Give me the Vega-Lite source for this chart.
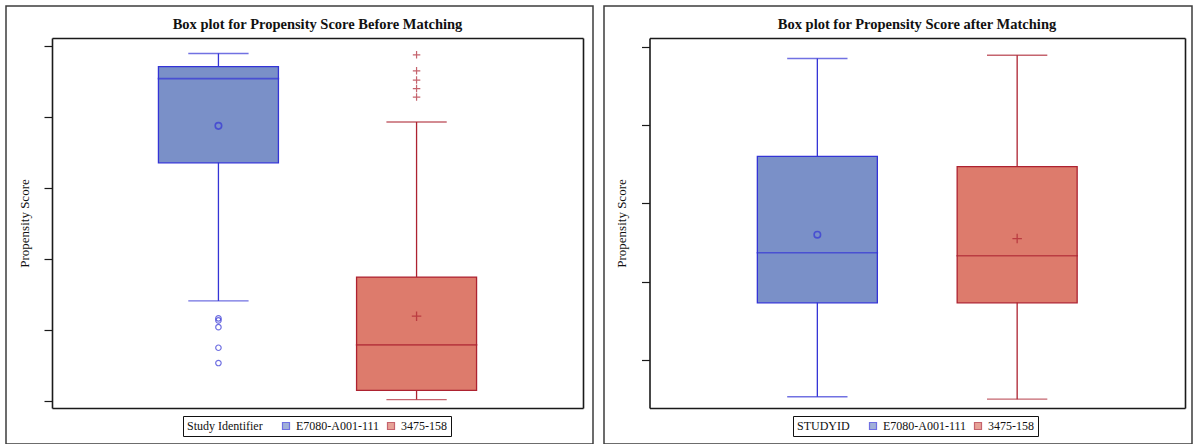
{
  "$schema": "https://vega.github.io/schema/vega-lite/v6.json",
  "background": "white",
  "padding": {"left": 5, "top": 5, "right": 2, "bottom": 0},
  "spacing": 9,
  "resolve": {
    "scale": {"fill": "independent", "stroke": "independent"},
    "legend": {"fill": "independent", "stroke": "independent"}
  },
  "datasets": {
    "before_box": [
      {"study": "E7080-A001-111", "lower": 0.282, "q1": 0.671, "median": 0.908, "q3": 0.942, "upper": 0.979, "mean": 0.775},
      {"study": "3475-158", "lower": 0.004, "q1": 0.030, "median": 0.158, "q3": 0.349, "upper": 0.786, "mean": 0.239}
    ],
    "before_out": [
      {"study": "E7080-A001-111", "value": 0.233},
      {"study": "E7080-A001-111", "value": 0.227},
      {"study": "E7080-A001-111", "value": 0.208},
      {"study": "E7080-A001-111", "value": 0.150},
      {"study": "E7080-A001-111", "value": 0.107},
      {"study": "3475-158", "value": 0.975},
      {"study": "3475-158", "value": 0.930},
      {"study": "3475-158", "value": 0.904},
      {"study": "3475-158", "value": 0.880},
      {"study": "3475-158", "value": 0.856}
    ],
    "after_box": [
      {"study": "E7080-A001-111", "lower": 0.153, "q1": 0.273, "median": 0.337, "q3": 0.460, "upper": 0.585, "mean": 0.360},
      {"study": "3475-158", "lower": 0.150, "q1": 0.273, "median": 0.333, "q3": 0.447, "upper": 0.589, "mean": 0.355}
    ]
  },
  "hconcat": [
    {
      "width": 587,
      "height": 438,
      "title": {"text": "Box plot for Propensity Score Before Matching", "offset": -37, "baseline": "alphabetic", "dx": 18, "frame": "group", "anchor": "middle"},
      "resolve": {"axis": {"x": "independent", "y": "independent"}},
      "layer": [
        {
          "data": {"name": "before_box"},
          "mark": {"type": "rule", "strokeWidth": 1.3},
          "encoding": {
            "x": {"field": "study", "type": "nominal",
                  "scale": {"domain": ["E7080-A001-111", "3475-158"], "range": [46, 577], "paddingInner": 0, "paddingOuter": 0.34},
                  "axis": {"orient": "bottom", "offset": -36, "ticks": false, "labels": false, "title": null}},
            "y": {"field": "lower", "type": "quantitative",
                  "scale": {"domain": [-0.0197, 1.0225], "range": [402, 32], "nice": false, "zero": false},
                  "axis": {"orient": "left", "offset": -46, "values": [0, 0.2, 0.4, 0.6, 0.8, 1], "labels": false, "title": "Propensity Score", "titlePadding": 12, "minExtent": 0}},
            "y2": {"field": "upper"},
            "stroke": {"field": "study", "type": "nominal", "title": "Study Identifier",
                       "scale": {"domain": ["E7080-A001-111", "3475-158"], "range": ["#3434D6", "#AD2230"]}}
          }
        },
        {
          "data": {"name": "before_box"},
          "mark": {"type": "tick", "filled": false, "size": 59, "thickness": 0.1, "strokeWidth": 1.3},
          "encoding": {
            "x": {"field": "study", "type": "nominal", "axis": {"orient": "top", "offset": -32, "ticks": false, "labels": false, "title": null}},
            "y": {"field": "lower", "type": "quantitative", "axis": {"orient": "right", "offset": -10, "ticks": false, "labels": false, "title": null, "minExtent": 0}},
            "stroke": {"field": "study", "type": "nominal", "title": "Study Identifier"}
          }
        },
        {
          "data": {"name": "before_box"},
          "mark": {"type": "tick", "filled": false, "size": 59, "thickness": 0.1, "strokeWidth": 1.3},
          "encoding": {
            "x": {"field": "study", "type": "nominal", "axis": null},
            "y": {"field": "upper", "type": "quantitative", "axis": null},
            "stroke": {"field": "study", "type": "nominal", "title": "Study Identifier"}
          }
        },
        {
          "data": {"name": "before_box"},
          "mark": {"type": "bar", "width": 120, "strokeWidth": 1.3, "opacity": 1},
          "encoding": {
            "x": {"field": "study", "type": "nominal", "axis": null},
            "y": {"field": "q1", "type": "quantitative", "axis": null},
            "y2": {"field": "q3"},
            "fill": {"field": "study", "type": "nominal", "title": "Study Identifier",
                     "scale": {"domain": ["E7080-A001-111", "3475-158"], "range": ["#7A90C8", "#DD7B6C"]},
                     "legend": {"orient": "none", "legendX": 177, "legendY": 410, "direction": "horizontal", "titleOrient": "left"}},
            "stroke": {"field": "study", "type": "nominal", "title": "Study Identifier",
                       "legend": {"orient": "none", "legendX": 177, "legendY": 410, "direction": "horizontal", "titleOrient": "left"}}
          }
        },
        {
          "data": {"name": "before_box"},
          "mark": {"type": "tick", "filled": false, "size": 120, "thickness": 0.1, "strokeWidth": 1.5},
          "encoding": {
            "x": {"field": "study", "type": "nominal", "axis": null},
            "y": {"field": "median", "type": "quantitative", "axis": null},
            "stroke": {"field": "study", "type": "nominal", "title": "Study Identifier"}
          }
        },
        {
          "data": {"name": "before_box"},
          "transform": [{"filter": "datum.study === 'E7080-A001-111'"}],
          "mark": {"type": "point", "shape": "circle", "filled": false, "size": 42, "strokeWidth": 1.6},
          "encoding": {
            "x": {"field": "study", "type": "nominal", "axis": null},
            "y": {"field": "mean", "type": "quantitative", "axis": null},
            "stroke": {"field": "study", "type": "nominal", "title": "Study Identifier"}
          }
        },
        {
          "data": {"name": "before_box"},
          "transform": [{"filter": "datum.study === '3475-158'"}],
          "mark": {"type": "point", "shape": "M-1,0H1M0,-1V1", "filled": false, "size": 90, "strokeWidth": 1.3},
          "encoding": {
            "x": {"field": "study", "type": "nominal", "axis": null},
            "y": {"field": "mean", "type": "quantitative", "axis": null},
            "stroke": {"field": "study", "type": "nominal", "title": "Study Identifier"}
          }
        },
        {
          "data": {"name": "before_out"},
          "transform": [{"filter": "datum.study === 'E7080-A001-111'"}],
          "mark": {"type": "point", "shape": "circle", "filled": false, "size": 30, "strokeWidth": 1.2},
          "encoding": {
            "x": {"field": "study", "type": "nominal", "axis": null},
            "y": {"field": "value", "type": "quantitative", "axis": null},
            "stroke": {"field": "study", "type": "nominal", "title": "Study Identifier"}
          }
        },
        {
          "data": {"name": "before_out"},
          "transform": [{"filter": "datum.study === '3475-158'"}],
          "mark": {"type": "point", "shape": "M-1,0H1M0,-1V1", "filled": false, "size": 56, "strokeWidth": 1.2},
          "encoding": {
            "x": {"field": "study", "type": "nominal", "axis": null},
            "y": {"field": "value", "type": "quantitative", "axis": null},
            "stroke": {"field": "study", "type": "nominal", "title": "Study Identifier"}
          }
        }
      ]
    },
    {
      "width": 588,
      "height": 438,
      "title": {"text": "Box plot for Propensity Score after Matching", "offset": -37, "baseline": "alphabetic", "dx": 19, "frame": "group", "anchor": "middle"},
      "resolve": {"axis": {"x": "independent", "y": "independent"}},
      "layer": [
        {
          "data": {"name": "after_box"},
          "mark": {"type": "rule", "strokeWidth": 1.3},
          "encoding": {
            "x": {"field": "study", "type": "nominal",
                  "scale": {"domain": ["E7080-A001-111", "3475-158"], "range": [45.5, 581], "paddingInner": 0, "paddingOuter": 0.34},
                  "axis": {"orient": "bottom", "offset": -36, "ticks": false, "labels": false, "title": null}},
            "y": {"field": "lower", "type": "quantitative",
                  "scale": {"domain": [0.1387, 0.6111], "range": [402, 32], "nice": false, "zero": false},
                  "axis": {"orient": "left", "offset": -45.5, "values": [0.2, 0.3, 0.4, 0.5, 0.6], "labels": false, "title": "Propensity Score", "titlePadding": 12, "minExtent": 0}},
            "y2": {"field": "upper"},
            "stroke": {"field": "study", "type": "nominal", "title": "STUDYID",
                       "scale": {"domain": ["E7080-A001-111", "3475-158"], "range": ["#3434D6", "#AD2230"]}}
          }
        },
        {
          "data": {"name": "after_box"},
          "mark": {"type": "tick", "filled": false, "size": 59, "thickness": 0.1, "strokeWidth": 1.3},
          "encoding": {
            "x": {"field": "study", "type": "nominal", "axis": {"orient": "top", "offset": -32, "ticks": false, "labels": false, "title": null}},
            "y": {"field": "lower", "type": "quantitative", "axis": {"orient": "right", "offset": -7, "ticks": false, "labels": false, "title": null, "minExtent": 0}},
            "stroke": {"field": "study", "type": "nominal", "title": "STUDYID"}
          }
        },
        {
          "data": {"name": "after_box"},
          "mark": {"type": "tick", "filled": false, "size": 59, "thickness": 0.1, "strokeWidth": 1.3},
          "encoding": {
            "x": {"field": "study", "type": "nominal", "axis": null},
            "y": {"field": "upper", "type": "quantitative", "axis": null},
            "stroke": {"field": "study", "type": "nominal", "title": "STUDYID"}
          }
        },
        {
          "data": {"name": "after_box"},
          "mark": {"type": "bar", "width": 120, "strokeWidth": 1.3, "opacity": 1},
          "encoding": {
            "x": {"field": "study", "type": "nominal", "axis": null},
            "y": {"field": "q1", "type": "quantitative", "axis": null},
            "y2": {"field": "q3"},
            "fill": {"field": "study", "type": "nominal", "title": "STUDYID",
                     "scale": {"domain": ["E7080-A001-111", "3475-158"], "range": ["#7A90C8", "#DD7B6C"]},
                     "legend": {"orient": "none", "legendX": 189, "legendY": 410, "direction": "horizontal", "titleOrient": "left"}},
            "stroke": {"field": "study", "type": "nominal", "title": "STUDYID",
                       "legend": {"orient": "none", "legendX": 189, "legendY": 410, "direction": "horizontal", "titleOrient": "left"}}
          }
        },
        {
          "data": {"name": "after_box"},
          "mark": {"type": "tick", "filled": false, "size": 120, "thickness": 0.1, "strokeWidth": 1.5},
          "encoding": {
            "x": {"field": "study", "type": "nominal", "axis": null},
            "y": {"field": "median", "type": "quantitative", "axis": null},
            "stroke": {"field": "study", "type": "nominal", "title": "STUDYID"}
          }
        },
        {
          "data": {"name": "after_box"},
          "transform": [{"filter": "datum.study === 'E7080-A001-111'"}],
          "mark": {"type": "point", "shape": "circle", "filled": false, "size": 42, "strokeWidth": 1.6},
          "encoding": {
            "x": {"field": "study", "type": "nominal", "axis": null},
            "y": {"field": "mean", "type": "quantitative", "axis": null},
            "stroke": {"field": "study", "type": "nominal", "title": "STUDYID"}
          }
        },
        {
          "data": {"name": "after_box"},
          "transform": [{"filter": "datum.study === '3475-158'"}],
          "mark": {"type": "point", "shape": "M-1,0H1M0,-1V1", "filled": false, "size": 90, "strokeWidth": 1.3},
          "encoding": {
            "x": {"field": "study", "type": "nominal", "axis": null},
            "y": {"field": "mean", "type": "quantitative", "axis": null},
            "stroke": {"field": "study", "type": "nominal", "title": "STUDYID"}
          }
        }
      ]
    }
  ],
  "config": {
    "font": "Liberation Serif",
    "view": {"stroke": "#3c3c3c", "strokeWidth": 1.5},
    "axis": {"domainColor": "#1a1a1a", "domainWidth": 1.6, "tickColor": "#1a1a1a", "tickWidth": 1.2, "tickSize": 8, "grid": false,
             "titleFont": "Liberation Serif", "titleFontSize": 13, "titleFontWeight": "normal", "titleColor": "#111"},
    "title": {"font": "Liberation Serif", "fontSize": 14.5, "fontWeight": "bold", "color": "#111"},
    "legend": {"titleFont": "Liberation Serif", "titleFontSize": 12, "titleFontWeight": "normal", "titleColor": "#111",
               "labelFont": "Liberation Serif", "labelFontSize": 12, "labelColor": "#111",
               "symbolType": "square", "symbolSize": 49, "symbolStrokeWidth": 1.2,
               "columnPadding": 5, "labelOffset": 4, "padding": 4, "strokeColor": "#111", "titlePadding": 17}
  }
}
